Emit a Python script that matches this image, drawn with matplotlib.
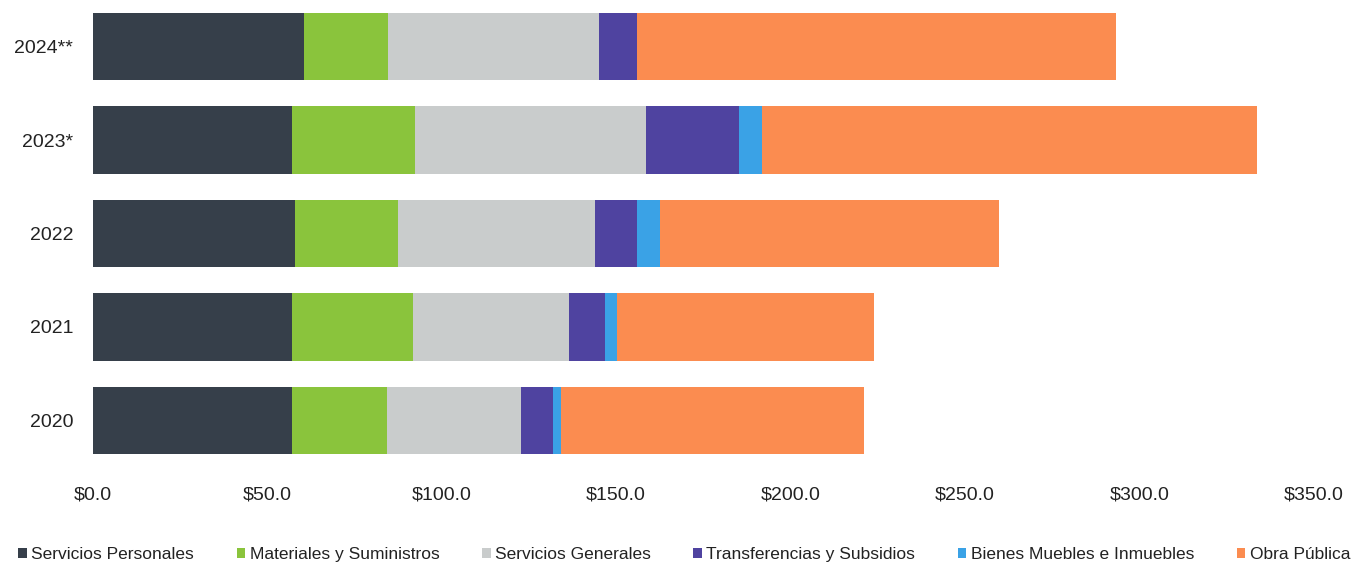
import numpy as np
import matplotlib.pyplot as plt
from matplotlib.patches import Patch

plt.rcParams['font.family'] = ['Liberation Sans', 'DejaVu Sans']

years = ['2020', '2021', '2022', '2023*', '2024**']
servicios_personales = [57.1, 57.2, 57.9, 57.0, 60.5]
materiales_suministros = [27.3, 34.5, 29.7, 35.3, 24.2]
servicios_generales = [38.4, 44.9, 56.4, 66.2, 60.3]
transferencias_subsidios = [9.2, 10.2, 11.9, 26.8, 11.0]
bienes_muebles = [2.2, 3.5, 6.6, 6.5, 0.0]
obra_publica = [86.7, 73.7, 97.1, 141.7, 137.2]

series = [
    ('Servicios Personales', servicios_personales, '#363f4a'),
    ('Materiales y Suministros', materiales_suministros, '#8ac43c'),
    ('Servicios Generales', servicios_generales, '#c9cccc'),
    ('Transferencias y Subsidios', transferencias_subsidios, '#4f43a0'),
    ('Bienes Muebles e Inmuebles', bienes_muebles, '#3aa2e6'),
    ('Obra Pública', obra_publica, '#fb8c50'),
]

fig = plt.figure(figsize=(13.51, 5.65), dpi=100)
ax = fig.add_axes([0.0686, 0.1735, 0.9041, 0.8265])

y = np.arange(len(years))
left = np.zeros(len(years))
handles = []
for name, vals, color in series:
    vals = np.array(vals)
    ax.barh(y, vals, left=left, height=0.72, color=color)
    left += vals
    handles.append(Patch(facecolor=color, label=name))

ax.set_xlim(0, 350)
ax.set_ylim(-0.5, 4.5)
ax.set_yticks(y)
ax.set_yticklabels(years, fontsize=14, color='#222222')
ticks = np.arange(0, 351, 50)
ax.set_xticks(ticks)
ax.set_xticklabels([f'${t:.1f}' for t in ticks], fontsize=14, color='#222222')
ax.tick_params(length=0)
ax.tick_params(axis='x', pad=14)
ax.tick_params(axis='y', pad=14)
for s in ax.spines.values():
    s.set_visible(False)

fig.legend(handles=handles, loc='lower center', bbox_to_anchor=(0.5065, -0.022), ncol=6,
           frameon=False, fontsize=12.5, handlelength=0.5, handleheight=0.5,
           handletextpad=0.25, columnspacing=2.45, labelcolor='#222222')

fig.savefig('out.png', dpi=100)
